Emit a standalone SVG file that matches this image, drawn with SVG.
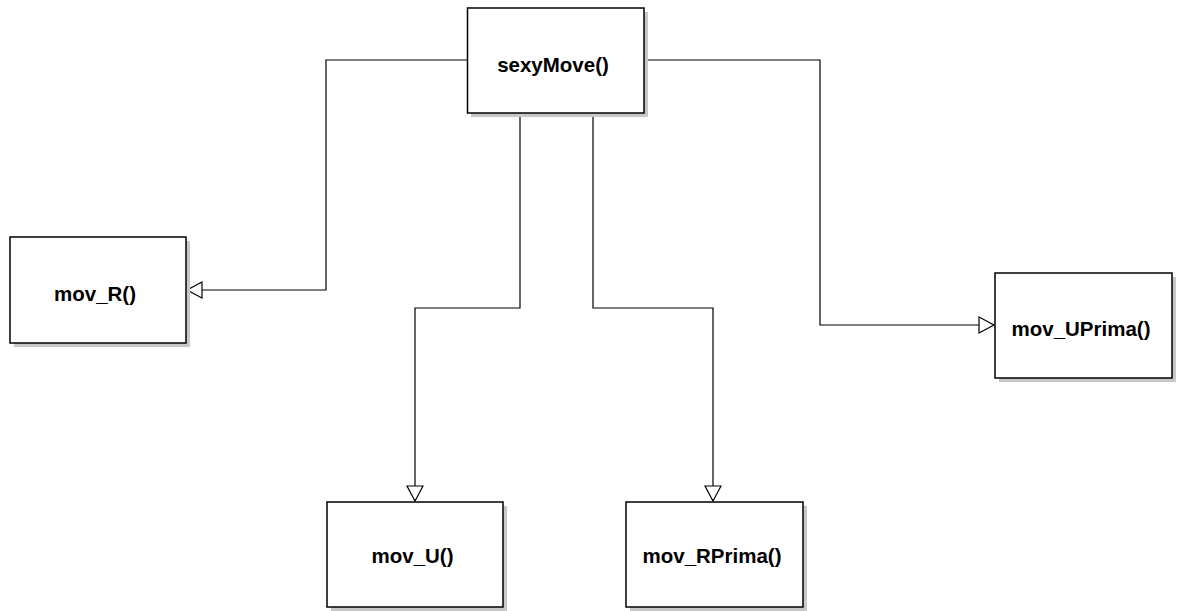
<svg xmlns="http://www.w3.org/2000/svg" width="1177" height="611" viewBox="0 0 1177 611">
<style>
.box{fill:#fff;stroke:#000;stroke-width:1.5}
.sh{fill:#c8c8c8}
.lbl{font-family:"Liberation Sans",Arial,sans-serif;font-weight:bold;font-size:20.5px;text-anchor:middle;fill:#000}
.edge{fill:none;stroke:#000;stroke-width:1.2}
</style>
<defs>
<marker id="tri" markerWidth="20" markerHeight="20" refX="16" refY="9" orient="auto" markerUnits="userSpaceOnUse">
<path d="M1,1 L16,9 L1,17 Z" fill="#fff" stroke="#000" stroke-width="1.2"/>
</marker>
</defs>
<rect width="1177" height="611" fill="#fff"/>
<g id="connectors">
<path class="edge" d="M467,60 H326 V290 H187" marker-end="url(#tri)"/>
<path class="edge" d="M520,114 V308 H415 V501" marker-end="url(#tri)"/>
<path class="edge" d="M593,114 V308 H713 V501" marker-end="url(#tri)"/>
<path class="edge" d="M645,60 H820 V325 H994" marker-end="url(#tri)"/>
</g>
<g id="sexyMove">
<rect class="sh" x="471" y="12" width="177" height="105"/>
<rect class="box" x="467.5" y="8" width="176.5" height="105"/>
<text class="lbl" x="553" y="72">sexyMove()</text>
</g>
<g id="mov_R">
<rect class="sh" x="14" y="241" width="176" height="106"/>
<rect class="box" x="10" y="237" width="176" height="106"/>
<text class="lbl" x="95" y="301">mov_R()</text>
</g>
<g id="mov_UPrima">
<rect class="sh" x="999" y="277" width="177" height="105"/>
<rect class="box" x="995" y="273" width="177" height="105"/>
<text class="lbl" x="1081" y="336">mov_UPrima()</text>
</g>
<g id="mov_U">
<rect class="sh" x="331" y="506" width="176" height="105"/>
<rect class="box" x="327" y="502" width="176" height="105"/>
<text class="lbl" x="412.5" y="563">mov_U()</text>
</g>
<g id="mov_RPrima">
<rect class="sh" x="630" y="506" width="177" height="105"/>
<rect class="box" x="626" y="502" width="177" height="105"/>
<text class="lbl" x="712" y="563">mov_RPrima()</text>
</g>
</svg>
